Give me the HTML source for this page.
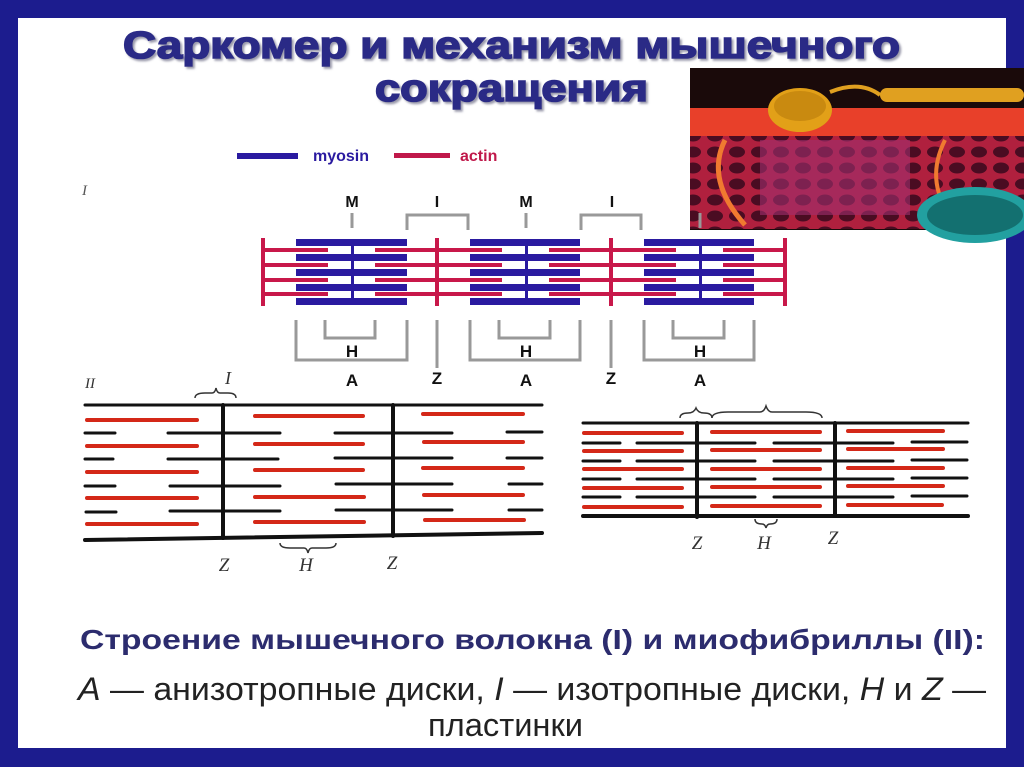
<!DOCTYPE html>
<html><head><meta charset="utf-8"><style>
html,body{margin:0;padding:0;}
body{width:1024px;height:767px;background:#1c1c8e;position:relative;overflow:hidden;font-family:"Liberation Sans",sans-serif;}
#w{position:absolute;left:18px;top:18px;width:988px;height:730px;background:#fff;}
svg{position:absolute;left:0;top:0;}
</style></head><body>
<div id="w"></div>
<svg width="1024" height="767" viewBox="0 0 1024 767">
<defs>
<filter id="sh"><feDropShadow dx="2" dy="2" stdDeviation="1" flood-color="#9999aa"/></filter>
<pattern id="cells" width="22" height="16" patternUnits="userSpaceOnUse"><rect width="22" height="16" fill="#b0203e"/><ellipse cx="11" cy="8" rx="8" ry="5.5" fill="#4a0c22"/></pattern>
</defs>
<g font-weight="bold" fill="#2b2b86" stroke="#2b2b86" stroke-width="1.6" font-size="38" filter="url(#sh)">
<text x="123" y="58" textLength="777" lengthAdjust="spacingAndGlyphs">Саркомер и механизм мышечного</text>
<text x="375" y="101" textLength="273" lengthAdjust="spacingAndGlyphs">сокращения</text>
</g>
<!-- photo -->
<g>
<rect x="690" y="68" width="334" height="162" fill="#1a0a0a"/>
<rect x="690" y="108" width="334" height="28" fill="#e8402a"/>
<rect x="690" y="136" width="334" height="93" fill="url(#cells)"/>
<rect x="760" y="140" width="150" height="75" fill="#a03070" opacity="0.6"/>
<ellipse cx="800" cy="110" rx="32" ry="22" fill="#e2a018"/>
<ellipse cx="800" cy="106" rx="26" ry="15" fill="#c98a10"/>
<rect x="880" y="88" width="144" height="14" rx="7" fill="#e0a020"/>
<path d="M830 92 Q860 80 880 95" stroke="#e0a020" stroke-width="4" fill="none"/>
<path d="M725 140 Q705 180 745 225" stroke="#f07a30" stroke-width="5" fill="none"/>
<path d="M945 140 Q925 180 950 215" stroke="#f07a30" stroke-width="4" fill="none"/>
<ellipse cx="975" cy="215" rx="58" ry="28" fill="#22a0a0"/>
<ellipse cx="975" cy="215" rx="48" ry="20" fill="#137070"/>
</g>
<!-- legend -->
<rect x="237" y="153" width="61" height="6" fill="#2a1aa0"/>
<text x="313" y="161" font-size="16" font-weight="bold" fill="#2a1aa0">myosin</text>
<rect x="394" y="153" width="56" height="5" fill="#c0184a"/>
<text x="460" y="161" font-size="16" font-weight="bold" fill="#c0184a">actin</text>
<text x="82" y="195" font-size="15" font-style="italic" fill="#555" font-family="Liberation Serif,serif">I</text>
<g font-size="16" font-weight="bold" fill="#111" text-anchor="middle">
<text x="352" y="207">M</text><text x="437" y="207">I</text><text x="526" y="207">M</text><text x="612" y="207">I</text>
</g>
<g stroke="#999" stroke-width="3" fill="none">
<path d="M352 213V228"/><path d="M526 213V228"/><path d="M700 213V228"/>
<path d="M407 230V215H468V230"/><path d="M581 230V215H641V230"/>
<path d="M296 320V360H407V320 M325 320V338H375V320"/>
<path d="M470 320V360H580V320 M499 320V338H550V320"/>
<path d="M644 320V360H754V320 M673 320V338H724V320"/>
<path d="M437 320V368 M611 320V368"/>
</g>
<g font-size="17" font-weight="bold" fill="#111" text-anchor="middle">
<text x="352" y="357">H</text><text x="526" y="357">H</text><text x="700" y="357">H</text>
<text x="352" y="386">A</text><text x="526" y="386">A</text><text x="700" y="386">A</text>
<text x="437" y="384">Z</text><text x="611" y="384">Z</text>
</g>
<!-- sarcomere -->
<g fill="#2a1aa0">
<rect x="296" y="239" width="111" height="7"/><rect x="296" y="254" width="111" height="7"/><rect x="296" y="269" width="111" height="7"/><rect x="296" y="284" width="111" height="7"/><rect x="296" y="298" width="111" height="7"/>
<rect x="470" y="239" width="110" height="7"/><rect x="470" y="254" width="110" height="7"/><rect x="470" y="269" width="110" height="7"/><rect x="470" y="284" width="110" height="7"/><rect x="470" y="298" width="110" height="7"/>
<rect x="644" y="239" width="110" height="7"/><rect x="644" y="254" width="110" height="7"/><rect x="644" y="269" width="110" height="7"/><rect x="644" y="284" width="110" height="7"/><rect x="644" y="298" width="110" height="7"/>
<rect x="351" y="246" width="3" height="52"/><rect x="525" y="246" width="3" height="52"/><rect x="699" y="246" width="3" height="52"/>
</g>
<g stroke="#c8184a" stroke-width="4">
<path d="M263 250H328 M375 250H502 M549 250H676 M723 250H785"/>
<path d="M263 265H328 M375 265H502 M549 265H676 M723 265H785"/>
<path d="M263 280H328 M375 280H502 M549 280H676 M723 280H785"/>
<path d="M263 294H328 M375 294H502 M549 294H676 M723 294H785"/>
<path d="M263 238V306 M437 238V306 M611 238V306 M785 238V306"/>
</g>
<!-- II left -->
<text x="85" y="388" font-size="15" font-style="italic" fill="#333" font-family="Liberation Serif,serif">II</text>
<text x="225" y="384" font-size="18" font-style="italic" fill="#333" font-family="Liberation Serif,serif">I</text>
<path d="M195 398Q195 393 205 393H212Q215 393 216 388Q217 393 220 393H228Q236 393 236 398" stroke="#333" stroke-width="1.5" fill="none"/>
<g stroke="#111" stroke-linecap="round">
<path d="M85 405H542" stroke-width="3"/><path d="M85 540L542 533" stroke-width="4"/>
<path d="M223 405V538 M393 405V536" stroke-width="4"/>
<g stroke-width="3">
<path d="M85 433H115 M168 433H280 M335 433H452 M507 432H542"/>
<path d="M85 459H113 M168 459H278 M335 458H452 M507 458H542"/>
<path d="M85 486H115 M170 486H280 M336 484H452 M509 484H542"/>
<path d="M86 512H116 M170 511H280 M336 510H452 M509 510H542"/>
</g></g>
<g stroke="#d42818" stroke-width="4" stroke-linecap="round">
<path d="M87 420H197 M255 416H363 M423 414H523"/>
<path d="M87 446H197 M255 444H363 M424 442H523"/>
<path d="M87 472H197 M255 470H363 M423 468H523"/>
<path d="M87 498H197 M255 497H364 M424 495H523"/>
<path d="M87 524H197 M255 522H364 M425 520H524"/>
</g>
<path d="M280 543Q280 548 290 548H304Q307 548 308 553Q309 548 312 548H326Q336 548 336 543" stroke="#333" stroke-width="1.5" fill="none"/>
<g font-size="19" font-style="italic" fill="#333" font-family="Liberation Serif,serif" text-anchor="middle">
<text x="224" y="571">Z</text><text x="306" y="571">H</text><text x="392" y="569">Z</text>
<text x="697" y="549">Z</text><text x="764" y="549">H</text><text x="833" y="544">Z</text>
</g>
<!-- II right -->
<path d="M680 418Q680 413 688 413Q694 413 696 408Q698 413 704 413Q712 413 712 418" stroke="#333" stroke-width="1.5" fill="none"/>
<path d="M712 418Q712 412 728 412H760Q764 412 766 406Q768 412 772 412H806Q822 412 822 418" stroke="#333" stroke-width="1.5" fill="none"/>
<g stroke="#111" stroke-linecap="round">
<path d="M583 423H968" stroke-width="3"/><path d="M583 516H968" stroke-width="4"/>
<path d="M697 423V517 M835 423V515" stroke-width="4"/>
<g stroke-width="3">
<path d="M583 443H620 M637 443H755 M774 443H893 M912 442H967"/>
<path d="M583 461H620 M637 461H755 M774 461H893 M912 460H967"/>
<path d="M583 479H620 M637 479H755 M774 479H893 M912 478H967"/>
<path d="M583 497H620 M637 497H755 M774 497H893 M912 496H967"/>
</g></g>
<g stroke="#d42818" stroke-width="4" stroke-linecap="round">
<path d="M584 433H682 M712 432H820 M848 431H943"/>
<path d="M584 451H682 M712 450H820 M848 449H943"/>
<path d="M584 469H682 M712 469H820 M848 468H943"/>
<path d="M584 488H682 M712 487H820 M848 486H943"/>
<path d="M584 507H682 M712 506H820 M848 505H942"/>
</g>
<path d="M755 519Q755 524 762 524Q765 524 766 528Q767 524 770 524Q777 524 777 519" stroke="#333" stroke-width="1.5" fill="none"/>
<!-- bottom text -->
<text x="80" y="649" font-size="28" font-weight="bold" fill="#2c2c6e" textLength="905" lengthAdjust="spacingAndGlyphs">Строение мышечного волокна (I) и миофибриллы (II):</text>
<text x="78" y="700" font-size="32" fill="#222" textLength="908" lengthAdjust="spacingAndGlyphs"><tspan font-style="italic">A</tspan> — анизотропные диски, <tspan font-style="italic">I</tspan> — изотропные диски, <tspan font-style="italic">H</tspan> и <tspan font-style="italic">Z</tspan> —</text>
<text x="428" y="736" font-size="32" fill="#222" textLength="155" lengthAdjust="spacingAndGlyphs">пластинки</text>
</svg>
</body></html>
